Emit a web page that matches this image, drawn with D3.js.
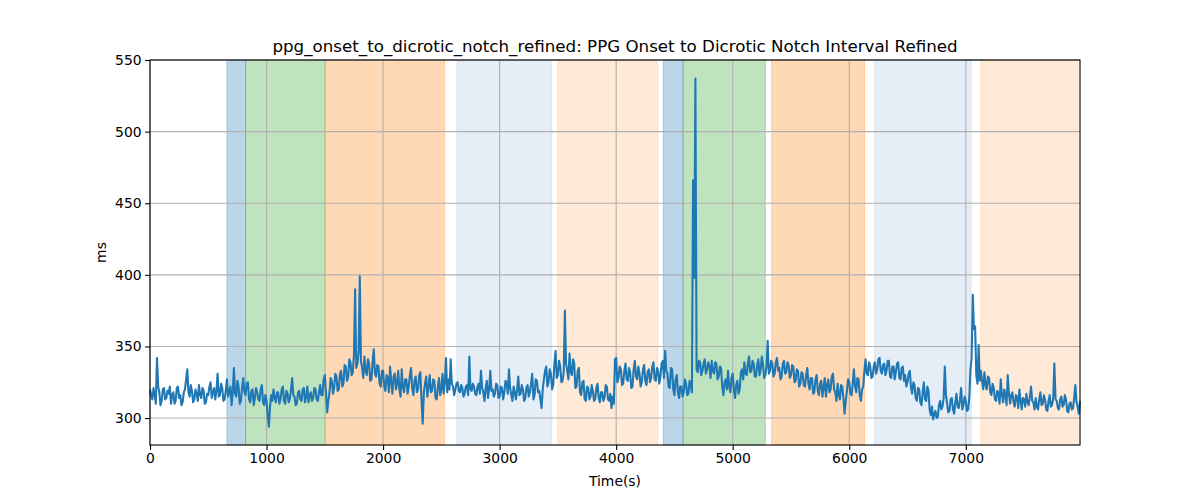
<!DOCTYPE html>
<html>
<head>
<meta charset="utf-8">
<script src="https://cdn.jsdelivr.net/npm/d3@7"></script>
<style>
  body { margin: 0; background: #fff; }
  svg text { font-family: "DejaVu Sans", sans-serif; fill: #000; }
</style>
</head>
<body>
<svg id="chart"></svg>
<script>
// ms values, one sample every 10 s starting at t = 0
const sampleStep = 10;
const intervalMs = [
  320, 316, 313, 321, 316, 310, 342, 322, 318, 309, 312, 320, 321, 313, 314, 319, 317, 322, 310, 316,
  318, 310, 312, 321, 322, 314, 316, 309, 311, 318, 320, 327, 334, 318, 315, 323, 319, 311, 313, 320,
  317, 312, 323, 316, 314, 321, 319, 310, 311, 317, 316, 322, 325, 314, 318, 321, 313, 319, 331, 315,
  316, 324, 321, 312, 313, 319, 327, 315, 318, 322, 309, 318, 335, 317, 315, 326, 322, 310, 312, 321,
  328, 318, 316, 324, 325, 313, 311, 319, 320, 309, 314, 321, 318, 313, 312, 320, 323, 311, 309, 316,
  312, 302, 294, 308, 316, 312, 320, 314, 311, 318, 318, 310, 313, 320, 322, 312, 310, 319, 317, 311,
  313, 320, 328, 316, 315, 309, 310, 318, 319, 313, 312, 320, 321, 311, 315, 322, 311, 316, 318, 312,
  314, 321, 320, 313, 312, 318, 323, 316, 316, 327, 330, 318, 304, 312, 318, 328, 326, 317, 321, 331,
  329, 319, 320, 331, 333, 322, 324, 337, 336, 326, 328, 341, 339, 330, 332, 344, 390, 335, 338, 346,
  399, 340, 335, 328, 343, 333, 330, 341, 338, 326, 327, 339, 348, 331, 329, 337, 336, 324, 322, 333,
  333, 322, 319, 330, 328, 318, 336, 325, 317, 329, 331, 320, 324, 333, 320, 315, 334, 322, 318, 327,
  327, 317, 322, 330, 335, 321, 316, 326, 329, 318, 320, 330, 332, 312, 296, 318, 324, 329, 315, 322,
  330, 318, 319, 327, 326, 314, 313, 322, 328, 316, 320, 331, 317, 325, 342, 318, 327, 320, 341, 324,
  322, 316, 320, 324, 325, 319, 318, 323, 321, 315, 317, 322, 323, 316, 343, 320, 319, 324, 322, 317,
  316, 322, 324, 317, 333, 321, 318, 312, 321, 326, 314, 320, 333, 319, 320, 315, 317, 324, 323, 314,
  315, 322, 321, 313, 318, 326, 325, 317, 334, 321, 316, 312, 322, 318, 313, 320, 329, 316, 317, 323,
  320, 312, 314, 321, 323, 315, 318, 324, 331, 313, 316, 327, 326, 318, 319, 313, 307, 320, 327, 333,
  336, 322, 325, 334, 331, 320, 323, 338, 347, 328, 330, 340, 336, 325, 326, 332, 375, 338, 333, 327,
  345, 332, 330, 341, 338, 321, 322, 333, 335, 318, 316, 325, 326, 313, 312, 322, 321, 313, 315, 323,
  319, 312, 313, 321, 324, 314, 311, 318, 318, 312, 314, 323, 322, 313, 312, 317, 307, 315, 310, 341,
  342, 325, 328, 336, 334, 323, 324, 333, 338, 327, 326, 335, 332, 321, 322, 334, 340, 329, 327, 336,
  331, 322, 325, 334, 337, 326, 323, 332, 334, 325, 328, 336, 339, 327, 326, 335, 333, 324, 329, 338,
  340, 328, 347, 333, 331, 322, 321, 335, 334, 320, 316, 327, 330, 318, 314, 322, 322, 315, 318, 327,
  324, 316, 317, 326, 322, 318, 466, 398, 537, 334, 332, 340, 339, 330, 333, 338, 341, 331, 334, 339,
  336, 328, 340, 333, 331, 339, 338, 327, 329, 336, 335, 322, 316, 325, 327, 320, 333, 322, 318, 328,
  331, 320, 314, 323, 326, 317, 320, 332, 334, 327, 339, 331, 330, 338, 343, 332, 333, 340, 338, 329,
  329, 337, 341, 330, 334, 343, 337, 328, 330, 336, 354, 331, 333, 340, 338, 329, 331, 339, 342, 333,
  335, 327, 329, 338, 340, 331, 332, 339, 337, 328, 330, 337, 336, 325, 326, 334, 333, 322, 324, 332,
  331, 323, 322, 330, 335, 324, 320, 328, 328, 317, 318, 327, 330, 319, 316, 324, 326, 315, 321, 328,
  315, 323, 327, 318, 320, 329, 331, 320, 318, 312, 324, 316, 313, 323, 322, 314, 303, 312, 319, 327,
  325, 317, 316, 324, 334, 322, 318, 328, 327, 316, 312, 320, 322, 333, 341, 331, 330, 339, 336, 328,
  329, 336, 339, 331, 334, 341, 342, 333, 331, 337, 338, 330, 333, 340, 340, 329, 328, 336, 336, 327,
  332, 338, 339, 328, 327, 335, 336, 326, 330, 322, 325, 331, 333, 321, 317, 325, 323, 314, 312, 321,
  320, 311, 309, 318, 325, 313, 312, 322, 319, 306, 302, 308, 299, 303, 305, 300, 301, 309, 312, 306,
  308, 314, 336, 316, 310, 304, 305, 313, 314, 306, 303, 311, 317, 308, 307, 313, 321, 306, 309, 315,
  312, 305, 306, 314, 334, 342, 386, 362, 364, 330, 324, 351, 326, 333, 326, 320, 332, 323, 320, 329,
  328, 318, 316, 324, 321, 313, 312, 319, 318, 310, 327, 316, 311, 320, 316, 309, 330, 317, 310, 316,
  318, 311, 308, 316, 315, 307, 320, 312, 306, 314, 313, 308, 317, 311, 309, 315, 322, 312, 311, 306,
  314, 308, 306, 313, 318, 309, 310, 316, 313, 306, 305, 312, 316, 308, 309, 314, 338, 313, 312, 307,
  306, 313, 315, 308, 309, 316, 313, 305, 304, 310, 311, 306, 307, 314, 323, 311, 308, 303, 312
];

// shaded phases
const bandStart = [660, 820, 1503, 2633, 3499, 4405, 4574, 5334, 6218, 7127];
const bandEnd   = [820, 1503, 2527, 3447, 4359, 4574, 5280, 6132, 7047, 7961];
const bandColor = [
  "rgba(31,119,180,0.3)", "rgba(44,160,44,0.3)", "rgba(255,127,14,0.3)",
  "rgba(160,190,228,0.28)", "rgba(253,180,110,0.28)",
  "rgba(31,119,180,0.3)", "rgba(44,160,44,0.3)", "rgba(255,127,14,0.3)",
  "rgba(160,190,228,0.28)", "rgba(253,180,110,0.28)"
];

const xTicks = [0, 1000, 2000, 3000, 4000, 5000, 6000, 7000];
const yTicks = [300, 350, 400, 450, 500, 550];

const width = 1200, height = 500;
const margin = { top: 60, left: 150, bottom: 55, right: 120 };
const iwidth = width - margin.left - margin.right;
const iheight = height - margin.top - margin.bottom;

const svg = d3.select("#chart").attr("width", width).attr("height", height);
const g = svg.append("g").attr("transform", `translate(${margin.left},${margin.top})`);

const x = d3.scaleLinear().domain([0, 7980]).range([0, iwidth]);
const y = d3.scaleLinear().domain([281.2, 550]).range([iheight, 0]);

const data = intervalMs.map((v, i) => ({ t: i * sampleStep, v }));

g.selectAll("rect.band")
  .data(bandStart.map((s, i) => ({ s, e: bandEnd[i], c: bandColor[i] })))
  .enter().append("rect")
  .attr("class", "band")
  .attr("x", d => x(d.s))
  .attr("width", d => x(d.e) - x(d.s))
  .attr("y", 0)
  .attr("height", iheight)
  .style("fill", d => d.c)
  .style("stroke", d => d.c)
  .style("stroke-width", 1);

// grid
g.append("g").selectAll("line").data(xTicks).enter().append("line")
  .attr("x1", d => x(d)).attr("x2", d => x(d))
  .attr("y1", 0).attr("y2", iheight)
  .style("stroke", "#b0b0b0").style("stroke-width", 1.1);
g.append("g").selectAll("line").data(yTicks).enter().append("line")
  .attr("x1", 0).attr("x2", iwidth)
  .attr("y1", d => y(d)).attr("y2", d => y(d))
  .style("stroke", "#b0b0b0").style("stroke-width", 1.1);

const line = d3.line().x(d => x(d.t)).y(d => y(d.v));
g.append("path")
  .datum(data)
  .attr("d", line)
  .style("fill", "none")
  .style("stroke", "#1f77b4")
  .style("stroke-width", 2.08)
  .style("stroke-linejoin", "round");

// frame
g.append("rect")
  .attr("width", iwidth).attr("height", iheight)
  .style("fill", "none").style("stroke", "#000").style("stroke-width", 1.1);

const xAxis = g.append("g")
  .attr("transform", `translate(0,${iheight})`)
  .call(d3.axisBottom(x).tickValues(xTicks).tickSize(4.9).tickPadding(3.5).tickFormat(d3.format("d")));
const yAxis = g.append("g")
  .call(d3.axisLeft(y).tickValues(yTicks).tickSize(4.9).tickPadding(3.5).tickFormat(d3.format("d")));
[xAxis, yAxis].forEach(a => {
  a.select(".domain").remove();
  a.selectAll("line").style("stroke", "#000").style("stroke-width", 1.1);
  a.selectAll("text").style("font-size", "13.9px").style("font-family", "DejaVu Sans");
});

svg.append("text")
  .attr("x", margin.left + iwidth / 2).attr("y", 52)
  .attr("text-anchor", "middle")
  .style("font-size", "16.7px")
  .text("ppg_onset_to_dicrotic_notch_refined: PPG Onset to Dicrotic Notch Interval Refined");

svg.append("text")
  .attr("x", margin.left + iwidth / 2).attr("y", 486)
  .attr("text-anchor", "middle")
  .style("font-size", "13.9px")
  .text("Time(s)");

svg.append("text")
  .attr("transform", `translate(106,${margin.top + iheight / 2}) rotate(-90)`)
  .attr("text-anchor", "middle")
  .style("font-size", "13.9px")
  .text("ms");
</script>
</body>
</html>
